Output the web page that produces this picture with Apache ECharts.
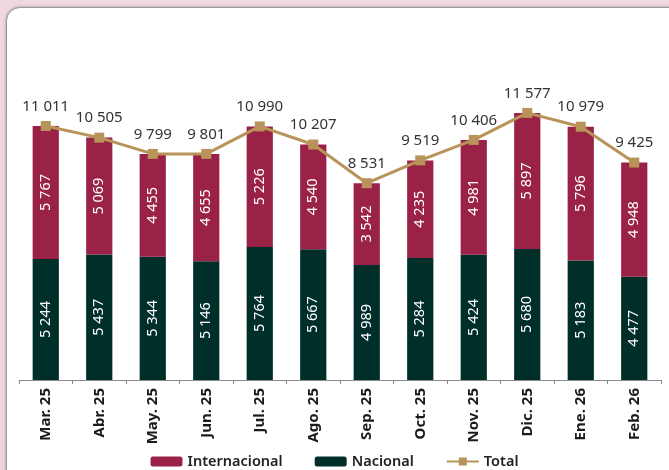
<!DOCTYPE html>
<html>
<head>
<meta charset="utf-8">
<script src="https://cdn.jsdelivr.net/npm/echarts@6/dist/echarts.min.js"></script>
<style>
  html, body { margin: 0; padding: 0; }
  body { width: 669px; height: 470px; overflow: hidden; position: relative;
         background: linear-gradient(180deg, #efd9df 0%, #ecd6dc 100%); }
  #box { position: absolute; left: 6px; top: 7px; width: 690px; height: 490px;
         background: #fff; border-radius: 14px; border: 1px solid #9a9a9a;
         box-shadow: 0 0 3px rgba(0,0,0,0.35); }
  #chart { position: absolute; left: 0; top: 0; width: 669px; height: 470px; }
</style>
</head>
<body>
<div id="box"></div>
<div id="chart"></div>
<script>
// meses
const categories = ['Mar. 25', 'Abr. 25', 'May. 25', 'Jun. 25', 'Jul. 25', 'Ago. 25',
  'Sep. 25', 'Oct. 25', 'Nov. 25', 'Dic. 25', 'Ene. 26', 'Feb. 26']
const nacional = [5244, 5437, 5344, 5146, 5764, 5667, 4989, 5284, 5424, 5680, 5183, 4477]
const internacional = [5767, 5069, 4455, 4655, 5226, 4540, 3542, 4235, 4981, 5897, 5796, 4948]
const total = [11011, 10505, 9799, 9801, 10990, 10207, 8531, 9519, 10406, 11577, 10979, 9425]

const FONT = '"Noto Sans", "Open Sans", sans-serif'

// separador de miles con espacio
function fmt(v) {
  return String(v).replace(/\B(?=(\d{3})+(?!\d))/g, ' ')
}

const chart = echarts.init(document.getElementById('chart'))
const option = {
  animation: false,
  backgroundColor: 'transparent',
  textStyle: { fontFamily: FONT },
  grid: { left: 19, right: 8, top: 57, bottom: 90 },
  legend: {
    top: 449,
    left: 'center',
    itemWidth: 32,
    itemHeight: 10,
    itemGap: 32,
    textStyle: { fontFamily: FONT, fontSize: 14.5, fontWeight: 600, color: '#222' },
    data: ['Internacional', 'Nacional', 'Total']
  },
  xAxis: {
    type: 'category',
    data: categories,
    axisLine: { lineStyle: { color: '#8a8a8a', width: 1 } },
    axisTick: { show: true, length: 4, lineStyle: { color: '#8a8a8a' } },
    axisLabel: {
      rotate: 90,
      margin: 8,
      fontFamily: FONT,
      fontSize: 15,
      fontWeight: 'bold',
      color: '#1c1c1c'
    }
  },
  yAxis: {
    type: 'value',
    min: 0,
    max: 14000,
    show: false,
    splitLine: { show: false }
  },
  series: [
    {
      name: 'Nacional',
      type: 'bar',
      stack: 'pax',
      barWidth: '49%',
      data: nacional,
      itemStyle: { color: '#002f2a' },
      label: {
        show: true,
        position: 'inside',
        rotate: 90,
        fontFamily: FONT,
        fontSize: 14.5,
        color: '#fff',
        formatter: p => fmt(p.value)
      }
    },
    {
      name: 'Internacional',
      type: 'bar',
      stack: 'pax',
      barWidth: '49%',
      data: internacional,
      itemStyle: { color: '#9b2247' },
      label: {
        show: true,
        position: 'inside',
        rotate: 90,
        fontFamily: FONT,
        fontSize: 14.5,
        color: '#fff',
        formatter: p => fmt(p.value)
      }
    },
    {
      name: 'Total',
      type: 'line',
      data: total,
      symbol: 'rect',
      symbolSize: 10,
      lineStyle: { color: '#b8935a', width: 3 },
      itemStyle: { color: '#b8935a' },
      z: 5,
      label: {
        show: true,
        position: 'top',
        distance: 7,
        fontFamily: FONT,
        fontSize: 15,
        color: '#333',
        formatter: p => fmt(p.value)
      }
    }
  ]
}
chart.setOption(option)
</script>
</body>
</html>
